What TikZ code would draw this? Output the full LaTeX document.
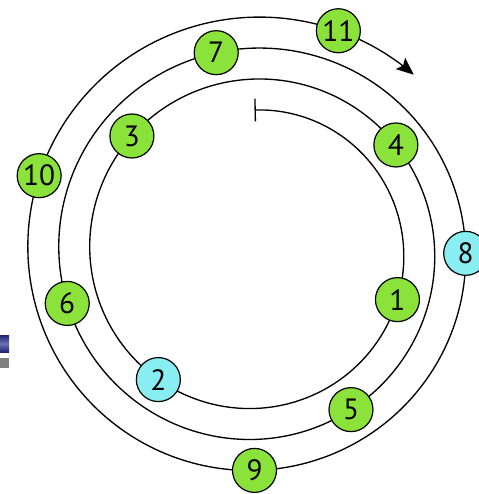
\documentclass[tikz,border=0pt]{standalone}
\usepackage{fontspec}
\setmainfont{PT Sans}
\usetikzlibrary{arrows.meta}
\definecolor{ballgreen}{HTML}{8AE23A}
\definecolor{ballcyan}{HTML}{88EEF2}
\definecolor{navyA}{HTML}{1E2270}
\definecolor{navyB}{HTML}{6A74B4}
\definecolor{boxgray}{HTML}{808080}
\tikzset{
  ball/.style={circle, draw=black, line width=0.9pt, minimum size=33pt, inner sep=0pt,
    font=\fontsize{22}{22}\selectfont},
  spiralline/.style={line width=1pt, black}
}
\begin{document}
\begin{tikzpicture}[x=0.75pt, y=-0.75pt]
\useasboundingbox (0,0) rectangle (479,494);
% edge artifacts
\shade[top color=navyA, bottom color=navyA, middle color=navyB] (0,335) rectangle (9,352);
\fill[boxgray] (0,358) rectangle (9,368);
% spiral
\draw[spiralline, {Bar[width=17pt]}-{Stealth[length=13pt, width=11pt, inset=2.5pt]}]
  plot[domain=0:1122, samples=500, variable=\t, smooth]
  ({254.5+(141.5+0.086*\t)*sin(\t)}, {251.5-(141.5+0.086*\t)*cos(\t)});
% nodes
\foreach \n/\p/\c in {1/108.6/ballgreen, 2/216.9/ballcyan, 3/313.3/ballgreen,
  4/413/ballgreen, 5/508.6/ballgreen, 6/614.5/ballgreen, 7/709.1/ballgreen,
  8/810.5/ballcyan, 9/900/ballgreen, 10/1009.4/ballgreen, 11/1100.8/ballgreen}
  \node[ball, fill=\c] (n\n) at ({254.5+(141.5+0.086*\p)*sin(\p)}, {251.5-(141.5+0.086*\p)*cos(\p)}) {\n};
\end{tikzpicture}
\end{document}
